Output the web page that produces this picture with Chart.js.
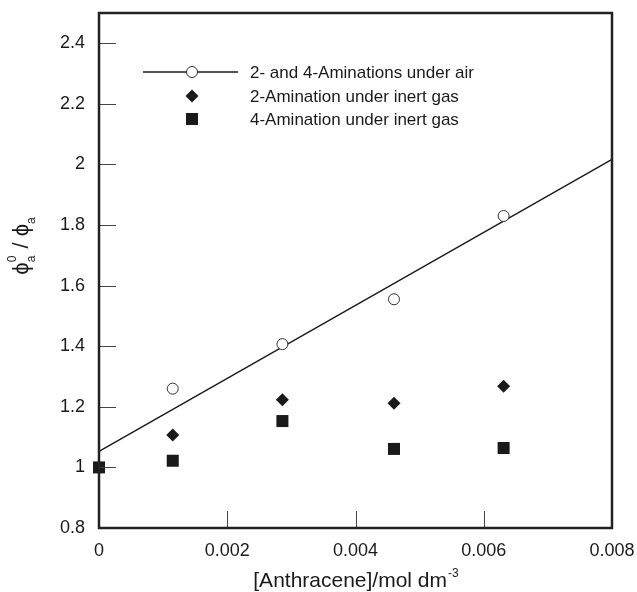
<!DOCTYPE html>
<html>
<head>
<meta charset="utf-8">
<script src="https://cdn.jsdelivr.net/npm/chart.js@4.4.1/dist/chart.umd.min.js"></script>
<style>
  html, body { margin: 0; padding: 0; background: #fff; }
  canvas { display: block; }
</style>
</head>
<body>
<canvas id="chart" width="637" height="592"></canvas>
<script>
// Dados
const airX = [0.00115, 0.00286, 0.0046, 0.00631];
const airY = [1.26, 1.407, 1.555, 1.83];
const inert2X = [0.00115, 0.00286, 0.0046, 0.00631];
const inert2Y = [1.107, 1.223, 1.212, 1.268];
const inert4X = [0, 0.00115, 0.00286, 0.0046, 0.00631];
const inert4Y = [1.0, 1.022, 1.153, 1.061, 1.064];
const fitX = [0, 0.008];
const fitY = [1.053, 2.017];

const xTicks = [0, 0.002, 0.004, 0.006, 0.008];
const xTickLabels = ['0', '0.002', '0.004', '0.006', '0.008'];
const yTicks = [0.8, 1.0, 1.2, 1.4, 1.6, 1.8, 2.0, 2.2, 2.4];
const yTickLabels = ['0.8', '1', '1.2', '1.4', '1.6', '1.8', '2', '2.2', '2.4'];

const legendLabels = [
    '2- and 4-Aminations under air',
    '2-Amination under inert gas',
    '4-Amination under inert gas'
];

const FONT = '"Liberation Sans", Arial, sans-serif';
const INK = '#1a1a1a';

const toPoints = (xs, ys) => xs.map((x, i) => ({ x: x, y: ys[i] }));

// Moldura, marcas de escala internas, legenda e títulos dos eixos
const decorPlugin = {
    id: 'decor',
    afterDraw(chart) {
        const ctx = chart.ctx;
        const a = chart.chartArea;
        const xs = chart.scales.x, ys = chart.scales.y;
        ctx.save();

        // marcas internas
        ctx.strokeStyle = '#444';
        ctx.lineWidth = 1;
        ctx.beginPath();
        xs.ticks.forEach(t => {
            const px = Math.round(xs.getPixelForValue(t.value)) + 0.5;
            ctx.moveTo(px, a.bottom);
            ctx.lineTo(px, a.bottom - 17);
        });
        ys.ticks.forEach(t => {
            const py = Math.round(ys.getPixelForValue(t.value)) + 0.5;
            ctx.moveTo(a.left, py);
            ctx.lineTo(a.left + 17, py);
        });
        ctx.stroke();

        // moldura
        ctx.strokeStyle = '#222';
        ctx.lineWidth = 2.5;
        ctx.strokeRect(a.left, a.top, a.right - a.left, a.bottom - a.top);

        // legenda
        const ds = chart.data.datasets;
        const rows = [72, 96, 119];
        const mx = 192;
        ctx.strokeStyle = INK;
        ctx.lineWidth = 1.3;
        ctx.beginPath();
        ctx.moveTo(143, rows[0]);
        ctx.lineTo(238, rows[0]);
        ctx.stroke();
        for (let i = 0; i < 3; i++) {
            const d = ds[i];
            ctx.fillStyle = d.backgroundColor;
            ctx.strokeStyle = d.borderColor;
            ctx.lineWidth = d.borderWidth;
            Chart.helpers.drawPoint(ctx, {
                pointStyle: d.pointStyle,
                radius: d.pointRadius,
                borderWidth: d.borderWidth
            }, mx, rows[i]);
        }
        ctx.fillStyle = INK;
        ctx.font = '17px ' + FONT;
        ctx.textAlign = 'left';
        ctx.textBaseline = 'middle';
        legendLabels.forEach((l, i) => ctx.fillText(l, 250, rows[i] + 1));

        // título do eixo x
        ctx.textBaseline = 'alphabetic';
        ctx.font = '21px ' + FONT;
        const main = '[Anthracene]/mol dm';
        const wMain = ctx.measureText(main).width;
        ctx.font = '12px ' + FONT;
        const wSup = ctx.measureText('-3').width;
        let x0 = (a.left + a.right) / 2 - (wMain + wSup) / 2;
        ctx.font = '21px ' + FONT;
        ctx.fillText(main, x0, 587);
        ctx.font = '12px ' + FONT;
        ctx.fillText('-3', x0 + wMain + 1, 577);

        // título do eixo y: ϕa0 / ϕa
        ctx.translate(22, 246);
        ctx.rotate(-Math.PI / 2);
        const big = '22px ' + FONT, small = '12px ' + FONT;
        const phi = '\u03D5';
        ctx.font = big;
        const wPhi = ctx.measureText(phi).width;
        const wSl = ctx.measureText(' / ').width;
        ctx.font = small;
        const wA = ctx.measureText('a').width;
        const total = wPhi + wA + 1 + wSl + wPhi + wA;
        let tx = -total / 2;
        ctx.textBaseline = 'middle';
        ctx.font = big;
        ctx.fillText(phi, tx, 0);
        tx += wPhi;
        ctx.font = small;
        ctx.fillText('a', tx, 10);
        ctx.fillText('0', tx, -9);
        tx += wA + 1;
        ctx.font = big;
        ctx.fillText(' / ', tx, 0);
        tx += wSl;
        ctx.fillText(phi, tx, 0);
        tx += wPhi;
        ctx.font = small;
        ctx.fillText('a', tx, 10);

        ctx.restore();
    }
};

const ctx = document.getElementById('chart').getContext('2d');
new Chart(ctx, {
    type: 'scatter',
    data: {
        datasets: [
            {
                label: legendLabels[0],
                data: toPoints(airX, airY),
                pointStyle: 'circle',
                pointRadius: 5.5,
                backgroundColor: '#ffffff',
                borderColor: '#333',
                borderWidth: 1,
                clip: false,
                order: 1
            },
            {
                label: legendLabels[1],
                data: toPoints(inert2X, inert2Y),
                pointStyle: 'rectRot',
                pointRadius: 6.5,
                backgroundColor: INK,
                borderColor: INK,
                borderWidth: 0,
                clip: false,
                order: 2
            },
            {
                label: legendLabels[2],
                data: toPoints(inert4X, inert4Y),
                pointStyle: 'rect',
                pointRadius: 8.5,
                backgroundColor: INK,
                borderColor: INK,
                borderWidth: 0,
                clip: false,
                order: 3
            },
            {
                label: 'fit',
                data: toPoints(fitX, fitY),
                showLine: true,
                pointRadius: 0,
                borderColor: INK,
                borderWidth: 1.4,
                fill: false,
                clip: false,
                order: 10
            }
        ]
    },
    options: {
        responsive: false,
        animation: false,
        layout: { padding: { top: 13, right: 25, left: 0, bottom: 0 } },
        scales: {
            x: {
                type: 'linear',
                min: 0,
                max: 0.008,
                grid: { display: false, drawTicks: false },
                border: { display: false },
                afterBuildTicks: s => { s.ticks = xTicks.map(v => ({ value: v })); },
                afterFit: s => {
                    s.height = 64;
                    s.paddingLeft = 0;
                    s.paddingRight = 0;
                },
                ticks: {
                    padding: 12,
                    color: INK,
                    font: { family: FONT, size: 18 },
                    maxRotation: 0,
                    callback: (v, i) => xTickLabels[i]
                }
            },
            y: {
                type: 'linear',
                min: 0.8,
                max: 2.5,
                grid: { display: false, drawTicks: false },
                border: { display: false },
                afterBuildTicks: s => { s.ticks = yTicks.map(v => ({ value: v })); },
                afterFit: s => {
                    s.width = 99;
                    s.paddingTop = 0;
                    s.paddingBottom = 0;
                },
                ticks: {
                    padding: 14,
                    color: INK,
                    font: { family: FONT, size: 18 },
                    callback: (v, i) => yTickLabels[i]
                }
            }
        },
        plugins: {
            legend: { display: false },
            tooltip: { enabled: false }
        }
    },
    plugins: [decorPlugin]
});
</script>
</body>
</html>
